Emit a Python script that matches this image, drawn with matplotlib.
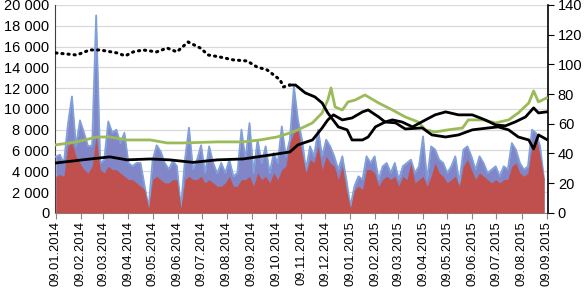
import numpy as np
import pandas as pd
import matplotlib
matplotlib.use('Agg')
import matplotlib.pyplot as plt
import matplotlib.ticker as mticker

plt.rcParams['font.family'] = ['Liberation Sans', 'DejaVu Sans']

# Volumes (left axis), sampled every 5 days from 09.01.2014
vol_dates = pd.date_range('2014-01-09', periods=122, freq='5D')
vol_total = [
    5400, 5600, 4800, 8500, 11200, 6400, 8900, 7700, 6400, 6500,
    19000, 4800, 5100, 8800, 7700, 8000, 6700, 7700, 4800, 4500,
    4800, 4800, 2600, 500, 5100, 6500, 5900, 4800, 4200, 5000,
    4500, 500, 5100, 8200, 4200, 5100, 6500, 3800, 6400, 4800,
    3800,
    4800, 3840, 5120, 3520, 3840, 8000, 5120, 8640, 3840, 7040,
    4800, 6400, 3840, 5760, 4800, 8320, 5440, 7040, 12160, 8960,
    7040, 4160, 6400, 5440, 8000, 5440, 7040, 6400, 5440, 4160,
    5440, 3200, 640, 2560, 3520, 3200, 5440, 4800, 5440, 3200,
    4480,
    4800, 3840, 4800, 3200, 4480, 4800, 5120, 3840, 4480, 7360,
    3200, 6400, 6080, 5120, 4800, 3840, 4480, 5440, 2880, 6080,
    6400, 5440, 4160, 5440, 4800, 3840, 4160, 4480, 3520, 4480,
    4160, 6720, 6080, 4800, 4160, 4480, 8000, 7680, 6400, 3200,
]
vol_part = [
    3520, 3680, 3520, 6400, 6720, 5440, 4800, 4160, 3840, 4480,
    7360, 4160, 3840, 4480, 4160, 4160, 3840, 3520, 3200, 3200,
    2880, 2560, 2240, 480, 3200, 3520, 3200, 2880, 2880, 3200,
    3200, 480, 3200, 3520, 3200, 3200, 3520, 2880, 3200, 2880,
    2560,
    2560, 2880, 3520, 2560, 2560, 3200, 3200, 3520, 2560, 3840,
    3200, 3520, 2880, 3840, 3200, 4160, 4480, 6720, 7680, 8000,
    5760, 3840, 5120, 4800, 6400, 4160, 5440, 4800, 4480, 3200,
    4480, 2240, 480, 2240, 2560, 2240, 4160, 4160, 3840, 2560,
    3200,
    3520, 3200, 3520, 2560, 3520, 3200, 4800, 2880, 3200, 3520,
    2560, 3520, 4800, 3840, 3520, 2880, 3200, 3520, 2560, 4480,
    5120, 4160, 3200, 3840, 3520, 3200, 2880, 3200, 2880, 3200,
    3200, 4480, 4800, 3840, 3520, 3840, 6400, 7360, 5440, 3200,
]

# Price lines (right axis)
dotted_dates = ['2014-01-09', '2014-02-04', '2014-02-20', '2014-03-05', '2014-03-26',
                '2014-04-05', '2014-04-15', '2014-04-27', '2014-05-14', '2014-05-27',
                '2014-06-08', '2014-06-22', '2014-07-07', '2014-07-17', '2014-07-31',
                '2014-08-17', '2014-09-03', '2014-09-15', '2014-09-28', '2014-10-14',
                '2014-10-18', '2014-10-26']
dotted_vals = [107.7, 106.3, 109.7, 109.7, 107.7, 105.7, 108.4, 109.7, 108.4, 111.0,
               108.4, 115.1, 111.0, 106.3, 105.0, 103.0, 102.3, 98.3, 96.2, 89.5,
               84.8, 86.1]

line_a_dates = ['2014-10-26', '2014-11-02', '2014-11-14', '2014-11-26', '2014-12-05',
                '2014-12-12', '2014-12-25', '2015-01-05', '2015-01-11', '2015-01-24',
                '2015-01-31', '2015-02-09', '2015-02-21', '2015-03-06', '2015-03-18',
                '2015-04-08', '2015-04-20', '2015-05-07', '2015-05-23', '2015-06-09',
                '2015-06-29', '2015-07-11', '2015-07-24', '2015-08-05', '2015-08-18',
                '2015-08-24', '2015-08-30', '2015-09-09']
line_a_vals = [86.1, 86.1, 80.8, 78.1, 74.0, 67.3, 57.9, 55.9, 49.1, 49.1,
               51.1, 57.9, 61.2, 60.6, 56.5, 57.2, 52.5, 51.1, 52.5, 55.9,
               57.2, 57.9, 55.9, 51.1, 49.1, 43.1, 52.5, 49.5]

line_b_dates = ['2014-01-09', '2014-02-11', '2014-03-05', '2014-03-17', '2014-04-07',
                '2014-05-06', '2014-05-30', '2014-06-28', '2014-07-28', '2014-08-29',
                '2014-10-02', '2014-10-26', '2014-11-05', '2014-11-23', '2014-12-05',
                '2014-12-12', '2014-12-19', '2014-12-30', '2015-01-11', '2015-01-24',
                '2015-01-31', '2015-02-13', '2015-02-21', '2015-03-02', '2015-03-14',
                '2015-03-27', '2015-04-12', '2015-04-24', '2015-05-07', '2015-05-23',
                '2015-06-09', '2015-06-25', '2015-07-08', '2015-07-20', '2015-08-01',
                '2015-08-14', '2015-08-24', '2015-08-30', '2015-09-09']
line_b_vals = [33.6, 35.7, 37.0, 37.7, 35.7, 36.3, 35.7, 34.0, 35.7, 36.3,
               39.0, 41.0, 45.8, 49.1, 57.2, 62.6, 66.0, 62.6, 63.9, 68.0,
               69.3, 64.6, 61.2, 62.6, 61.2, 57.9, 62.6, 66.0, 68.0, 66.0,
               66.0, 62.6, 59.2, 58.6, 61.2, 64.6, 70.7, 67.3, 68.0]

green_dates = ['2014-01-09', '2014-02-04', '2014-03-01', '2014-03-17', '2014-04-07',
               '2014-05-06', '2014-05-27', '2014-06-16', '2014-07-28', '2014-08-29',
               '2014-09-19', '2014-10-10', '2014-10-26', '2014-11-05', '2014-11-23',
               '2014-12-05', '2014-12-12', '2014-12-16', '2014-12-21', '2014-12-30',
               '2015-01-06', '2015-01-15', '2015-01-27', '2015-02-13', '2015-03-02',
               '2015-03-18', '2015-04-03', '2015-04-12', '2015-04-24', '2015-05-10',
               '2015-05-28', '2015-06-04', '2015-06-22', '2015-07-08', '2015-07-24',
               '2015-08-05', '2015-08-18', '2015-08-24', '2015-08-30', '2015-09-09']
green_vals = [45.8, 47.8, 51.1, 51.1, 49.1, 49.1, 47.1, 47.1, 47.8, 47.8,
              49.1, 51.1, 53.8, 55.9, 60.6, 67.3, 76.0, 84.1, 71.3, 69.3,
              74.7, 76.0, 79.4, 74.0, 69.3, 64.6, 61.2, 55.9, 54.5, 55.9,
              57.2, 62.6, 62.6, 60.6, 62.6, 67.3, 74.0, 82.1, 74.7, 77.4]

tick_labels = ['09.01.2014', '09.02.2014', '09.03.2014', '09.04.2014', '09.05.2014',
               '09.06.2014', '09.07.2014', '09.08.2014', '09.09.2014', '09.10.2014',
               '09.11.2014', '09.12.2014', '09.01.2015', '09.02.2015', '09.03.2015',
               '09.04.2015', '09.05.2015', '09.06.2015', '09.07.2015', '09.08.2015',
               '09.09.2015']
tick_dates = pd.to_datetime(tick_labels, format='%d.%m.%Y')

fig, ax = plt.subplots(figsize=(5.85, 2.92), dpi=100)
fig.subplots_adjust(left=0.094, right=0.937, top=0.983, bottom=0.271)

# areas
ax.fill_between(vol_dates, 0, vol_total, color='#8086C8', lw=0, zorder=2)
ax.plot(vol_dates, vol_total, color='#7FA0DA', lw=1.3, zorder=3)
ax.fill_between(vol_dates, 0, vol_part, color='#C0504D', lw=0, zorder=4)

ax.set_ylim(0, 20000)
ax.set_yticks(np.arange(0, 20001, 2000))
ax.yaxis.set_major_formatter(mticker.FuncFormatter(lambda v, p: f'{int(v):,}'.replace(',', ' ')))
ax.grid(axis='y', color='#D9D9D9', lw=0.9, zorder=0)
ax.set_axisbelow(True)
ax.set_xlim(pd.Timestamp('2014-01-08'), pd.Timestamp('2015-09-11'))
ax.set_xticks(tick_dates)
ax.set_xticklabels(tick_labels, rotation=90)
ax.tick_params(axis='y', length=0, labelsize=10.5, pad=4)
ax.tick_params(axis='x', length=4, color='#868686', labelsize=9.3, pad=2)
ax.spines['top'].set_visible(False)
ax.spines['right'].set_visible(False)
ax.spines['left'].set_color('#404040')
ax.spines['bottom'].set_color('#868686')

ax2 = ax.twinx()
ax2.plot(pd.to_datetime(dotted_dates), dotted_vals, color='black', lw=2.2,
         linestyle=(0, (0.4, 1.6)), dash_capstyle='round', zorder=5)
ax2.plot(pd.to_datetime(line_a_dates), line_a_vals, color='black', lw=2, zorder=5)
ax2.plot(pd.to_datetime(line_b_dates), line_b_vals, color='black', lw=2, zorder=5)
ax2.plot(pd.to_datetime(green_dates), green_vals, color='#9BBB59', lw=2, zorder=4)
ax2.set_ylim(0, 140)
ax2.set_yticks(np.arange(0, 141, 20))
ax2.tick_params(axis='y', length=4, color='black', labelsize=10.5, pad=3)
ax2.spines['top'].set_visible(False)
ax2.spines['left'].set_visible(False)
ax2.spines['bottom'].set_visible(False)
ax2.spines['right'].set_color('black')
ax2.spines['right'].set_linewidth(1.2)

fig.savefig('out.png', dpi=100)
